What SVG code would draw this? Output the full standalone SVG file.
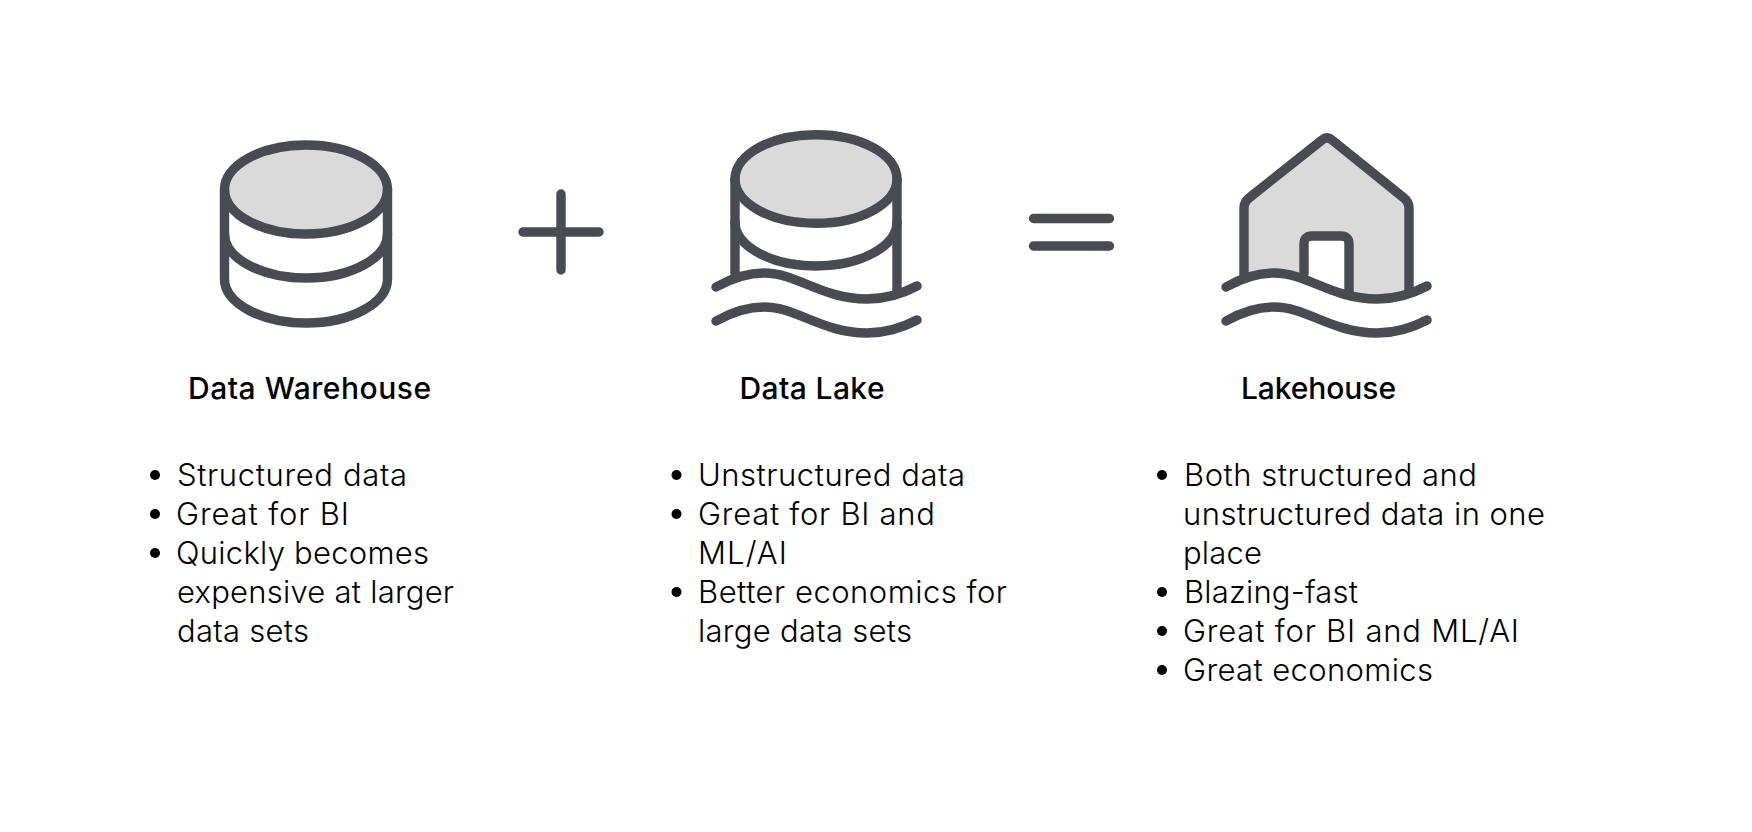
<svg xmlns="http://www.w3.org/2000/svg" width="1752" height="832" viewBox="0 0 1752 832">
<style>
.s{fill:none;stroke:#494b52;stroke-width:9.4;stroke-linecap:round;stroke-linejoin:round}
.g{fill:#dadada}
.t{font-family:"Inter","Liberation Sans",sans-serif;font-size:30px;font-weight:500;fill:#000}
.b{font-family:"Inter","Liberation Sans",sans-serif;font-size:31px;font-weight:300;fill:#000}
</style>
<defs>
<path id="wave" d="M716 287C732 278 748 273 764 273C797 273 822 299 867 299C884 299 900 295 917 286"/>
</defs>
<rect width="1752" height="832" fill="#fff"/>
<g id="warehouse">
<ellipse class="s g" cx="306" cy="189.500" rx="81.500" ry="44.500"/>
<path class="s" d="M224.500 189.500V279C224.500 303 261 323 306 323S387.500 303 387.500 279V189.500"/>
<path class="s" d="M224.500 234C224.500 258 261 278 306 278S387.500 258 387.500 234"/>
<text class="t" x="188" y="398.500" textLength="243">Data Warehouse</text>
</g>
<g id="plus"><path class="s" d="M523 232H599M561 194V270"/></g>
<g id="lake">
<ellipse class="s g" cx="816" cy="179" rx="81" ry="44.300"/>
<path class="s" d="M735 179V273M897 179V292"/>
<path class="s" d="M735 222C735 246 771 266 816 266S897 246 897 222"/>
<use href="#wave" class="s"/>
<use href="#wave" class="s" y="34"/>
<text class="t" x="739.500" y="398.500" textLength="145">Data Lake</text>
</g>
<g id="equals"><path class="s" d="M1033.500 218.500H1109.500M1033.500 246H1109.500"/></g>
<g id="lakehouse">
<path class="g" d="M1244 276V208Q1244 202 1249 198L1322 140Q1327 135.800 1332 140L1404 198Q1409 202 1409 208V292C1395 298 1385 299 1377 299C1332 299 1307 273 1274 273C1262 273 1252 275 1244 276Z"/>
<path fill="#fff" d="M1304 274V244Q1304 236 1312 236H1341Q1349 236 1349 244V296C1332 290 1318 281 1304 274Z"/>
<path class="s" d="M1244 276V208Q1244 202 1249 198L1322 140Q1327 135.800 1332 140L1404 198Q1409 202 1409 208V292"/>
<path class="s" d="M1304 274V244Q1304 236 1312 236H1341Q1349 236 1349 244V295"/>
<use href="#wave" class="s" x="510"/>
<use href="#wave" class="s" x="510" y="34"/>
<text class="t" x="1241" y="398.500" textLength="155">Lakehouse</text>
</g>
<g id="list1" class="b">
<circle cx="155" cy="475" r="5"/><circle cx="155" cy="514" r="5"/><circle cx="155" cy="553" r="5"/>
<text x="177" y="485.500" textLength="230">Structured data</text>
<text x="176" y="524.500" textLength="173">Great for BI</text>
<text x="176" y="563.500" textLength="253">Quickly becomes</text>
<text x="177" y="602.500" textLength="277">expensive at larger</text>
<text x="177" y="641.500" textLength="132">data sets</text>
</g>
<g id="list2" class="b">
<circle cx="676.500" cy="475" r="5"/><circle cx="676.500" cy="514" r="5"/><circle cx="676.500" cy="592" r="5"/>
<text x="698" y="485.500" textLength="267">Unstructured data</text>
<text x="698" y="524.500" textLength="237">Great for BI and</text>
<text x="698" y="563.500" textLength="89">ML/AI</text>
<text x="698" y="602.500" textLength="309">Better economics for</text>
<text x="698" y="641.500" textLength="214">large data sets</text>
</g>
<g id="list3" class="b">
<circle cx="1162" cy="475" r="5"/><circle cx="1162" cy="592" r="5"/><circle cx="1162" cy="631" r="5"/><circle cx="1162" cy="670" r="5"/>
<text x="1184" y="485.500" textLength="293">Both structured and</text>
<text x="1183" y="524.500" textLength="362">unstructured data in one</text>
<text x="1183" y="563.500" textLength="79">place</text>
<text x="1184" y="602.500" textLength="174">Blazing-fast</text>
<text x="1183" y="641.500" textLength="336">Great for BI and ML/AI</text>
<text x="1183" y="680.500" textLength="250">Great economics</text>
</g>
</svg>
